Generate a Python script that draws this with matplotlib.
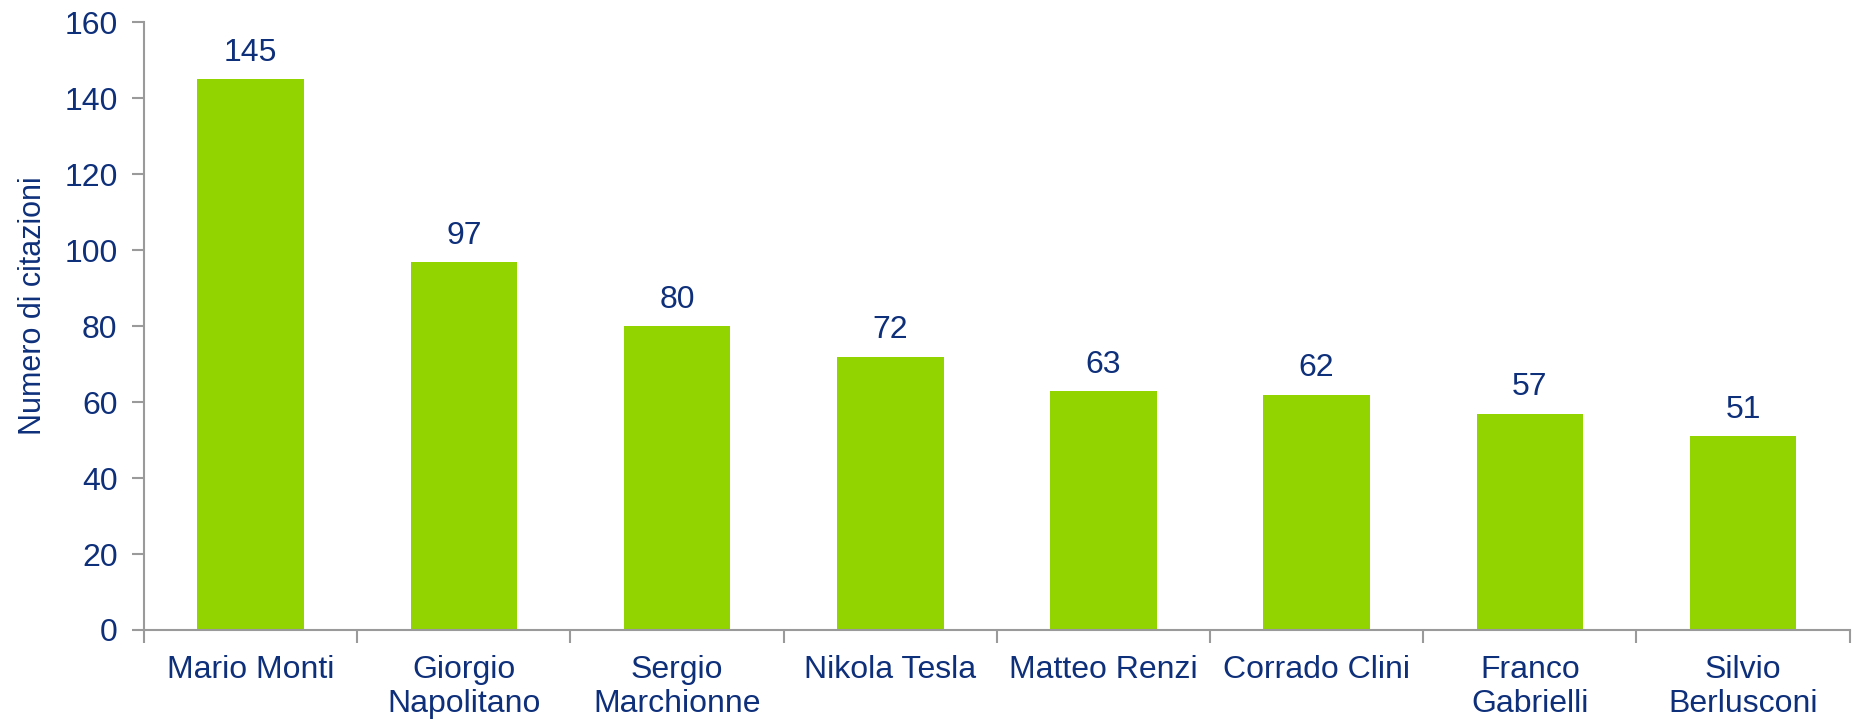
#!/usr/bin/env python
"""Bar chart: numero di citazioni per persona."""
import matplotlib
matplotlib.use("Agg")
import matplotlib.pyplot as plt
import numpy as np

names = ["Mario Monti", "Giorgio\nNapolitano", "Sergio\nMarchionne", "Nikola Tesla",
         "Matteo Renzi", "Corrado Clini", "Franco\nGabrielli", "Silvio\nBerlusconi"]
citations = [145, 97, 80, 72, 63, 62, 57, 51]
y_ticks = [0, 20, 40, 60, 80, 100, 120, 140, 160]

NAVY = "#0E2F7A"
GREEN = "#92D400"
GREY = "#9A9A9A"

plt.rcParams["font.family"] = ["Liberation Sans", "DejaVu Sans"]

fig = plt.figure(figsize=(18.58, 7.19), dpi=100)
ax = fig.add_axes([0.0775, 0.1238, 0.918, 0.845])

x = np.arange(len(names))
ax.bar(x, citations, width=0.5, color=GREEN, zorder=2)

for xi, v in zip(x, citations):
    ax.annotate(str(v), (xi, v), xytext=(0, 8), textcoords="offset points",
                ha="center", va="bottom", fontsize=23, color=NAVY)

ax.set_xlim(-0.5, len(names) - 0.5)
ax.set_ylim(0, 160)
ax.set_yticks(y_ticks)
ax.set_yticklabels([str(t) for t in y_ticks], fontsize=23, color=NAVY)

# boundary ticks on x, labels centred under bars
ax.set_xticks(np.arange(len(names) + 1) - 0.5)
ax.set_xticklabels([])
ax.set_xticks(x, minor=True)
ax.set_xticklabels(names, minor=True, fontsize=23, color=NAVY, linespacing=1.18)
ax.tick_params(axis="x", which="major", length=9, width=1.5, color=GREY, direction="out")
ax.tick_params(axis="x", which="minor", length=0, pad=18)
ax.tick_params(axis="y", length=9, width=1.5, color=GREY, pad=10)

for side in ["top", "right"]:
    ax.spines[side].set_visible(False)
for side in ["left", "bottom"]:
    ax.spines[side].set_color(GREY)
    ax.spines[side].set_linewidth(1.5)

ax.set_ylabel("Numero di citazioni", fontsize=22, color=NAVY, y=0.533,
              family=["Liberation Sans Narrow", "Liberation Sans"], labelpad=12)

fig.savefig("out.png", dpi=100)
